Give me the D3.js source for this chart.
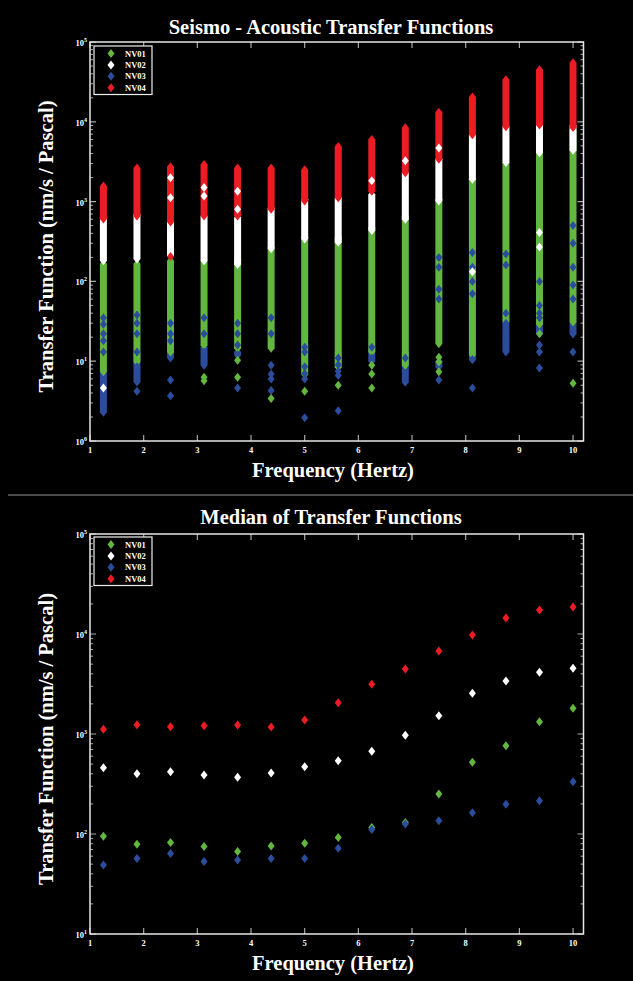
<!DOCTYPE html>
<html>
<head>
<meta charset="utf-8">
<script src="https://cdn.jsdelivr.net/npm/d3@7"></script>
<style>
  body { margin: 0; background: #000; }
  svg { display: block; }
  text { font-family: "Liberation Serif", "DejaVu Serif", serif; font-weight: bold; fill: #fff; }
</style>
</head>
<body>
<svg id="chart" width="633" height="981"></svg>
<script>
var width = 633, height = 981;

// frequency columns (Hz)
const freqs = [1.25, 1.875, 2.5, 3.125, 3.75, 4.375, 5, 5.625, 6.25, 6.875, 7.5, 8.125, 8.75, 9.375, 10];
const stations = ["NV01", "NV02", "NV03", "NV04"];
const colors = ["#62b83f", "#ffffff", "#2c4c9c", "#ec1c24"];

// dense runs of points in the top panel, per column (nm/s / Pa)
const nv01Hi = [166, 166, 182, 182, 190, 270, 357, 357, 480, 660, 1070, 1900, 3080, 4100, 7900];
const nv01Lo = [7.4, 9.8, 13, 15.8, 14.5, 14.5, 6.8, 8.4, 13, 8.9, 16.6, 12, 31, 29, 31];
const nv02Hi = [631, 690, 575, 660, 630, 830, 1070, 1120, 1230, 2300, 3400, 6900, 8700, 9100, 9000];
const nv02Lo = [182, 191, 210, 182, 163, 256, 340, 310, 435, 600, 1020, 1900, 3080, 4100, 4400];
const nv03Hi = [7.4, 13, 13, 15, 13, 18, 15, 13, 15, 13, 10, 12, 31, 28, 31];
const nv03Lo = [2.3, 5.5, 11, 9, 12, 18, 10, 9, 10, 5.5, 8.5, 10.5, 13, 22, 22];
const nv04Hi = [1570, 2630, 2735, 2920, 2630, 2630, 2500, 4900, 6000, 8400, 13200, 20400, 33600, 45000, 55000];
const nv04Lo = [604, 660, 556, 660, 660, 800, 1020, 1120, 1350, 2300, 3400, 6900, 8700, 9100, 8500];

// single points standing out of the runs [freq, value]
const nv01Out = [[3.125, 6.3], [3.125, 5.7], [3.75, 10.3], [3.75, 6.3], [4.375, 3.4], [5, 4.2],
  [5.625, 5.0], [6.25, 8.9], [6.25, 6.9], [6.25, 4.6], [7.5, 11.2], [7.5, 9.8], [7.5, 7.4],
  [9.375, 22], [10, 5.3]];
const nv02Out = [[1.25, 4.6], [2.5, 1990], [2.5, 1120], [3.125, 1500], [3.125, 1175], [3.75, 1350],
  [3.75, 800], [6.25, 1820], [6.875, 3240], [7.5, 4700], [8.125, 132], [9.375, 410], [9.375, 270]];
const nv03Out = [[1.25, 35], [1.25, 29], [1.25, 22], [1.25, 18], [1.25, 13],
  [1.875, 38], [1.875, 30], [1.875, 22], [1.875, 13], [1.875, 8.5], [1.875, 7], [1.875, 4.2],
  [2.5, 30], [2.5, 22], [2.5, 18], [2.5, 5.8], [2.5, 3.7],
  [3.125, 35], [3.125, 22], [3.125, 13], [3.125, 10], [3.125, 8.9],
  [3.75, 30], [3.75, 22], [3.75, 16], [3.75, 12], [3.75, 4.6],
  [4.375, 35], [4.375, 22], [4.375, 8.9], [4.375, 6.9], [4.375, 6.0], [4.375, 4.3],
  [5, 15], [5, 13], [5, 8.5], [5, 7], [5, 6], [5, 1.96],
  [5.625, 11], [5.625, 9], [5.625, 7.5], [5.625, 6.6], [5.625, 2.4],
  [6.25, 15], [6.25, 11], [6.875, 11], [6.875, 7], [6.875, 5.5],
  [7.5, 200], [7.5, 150], [7.5, 80], [7.5, 60], [7.5, 8.5], [7.5, 5.8],
  [8.125, 230], [8.125, 150], [8.125, 100], [8.125, 70], [8.125, 10.5], [8.125, 4.6],
  [8.75, 220], [8.75, 160], [8.75, 40], [8.75, 30], [8.75, 25], [8.75, 20], [8.75, 17], [8.75, 13.8],
  [9.375, 100], [9.375, 50], [9.375, 40], [9.375, 35], [9.375, 16], [9.375, 13], [9.375, 8.2],
  [10, 500], [10, 300], [10, 150], [10, 90], [10, 60], [10, 22], [10, 13]];
const nv04Out = [[2.5, 205]];

// medians, bottom panel
const nv01Median = [95, 79, 82, 75, 67, 76, 81, 92, 116, 130, 251, 521, 764, 1327, 1807];
const nv02Median = [460, 401, 420, 389, 369, 407, 471, 541, 671, 970, 1524, 2551, 3388, 4140, 4540];
const nv03Median = [49, 57, 64, 53, 55, 57, 57, 72, 111, 126, 136, 163, 198, 215, 334];
const nv04Median = [1114, 1238, 1183, 1211, 1230, 1175, 1380, 2056, 3140, 4467, 6761, 9772, 14450, 17400, 18600];

const xTicks = [1, 2, 3, 4, 5, 6, 7, 8, 9, 10];

var svg = d3.select('#chart');
svg.append('rect').attr('width', width).attr('height', height).attr('fill', '#000');

// grey divider between the two panels
svg.append('line')
  .attr('x1', 8).attr('x2', width).attr('y1', 495).attr('y2', 495)
  .attr('stroke', '#4a4a4a').attr('stroke-width', 2);

var dw = 7, dh = 9; // diamond size

function diamond(x, y) {
  return 'M' + x + ',' + (y - dh / 2) + 'L' + (x + dw / 2) + ',' + y +
    'L' + x + ',' + (y + dh / 2) + 'L' + (x - dw / 2) + ',' + y + 'Z';
}
// a run of overlapping diamonds from lo to hi
function run(x, yTop, yBot) {
  return 'M' + x + ',' + (yTop - dh / 2) + 'L' + (x + dw / 2) + ',' + yTop +
    'L' + (x + dw / 2) + ',' + yBot + 'L' + x + ',' + (yBot + dh / 2) +
    'L' + (x - dw / 2) + ',' + yBot + 'L' + (x - dw / 2) + ',' + yTop + 'Z';
}

function panel(top, bottom, yMin, title, titleY, legendTop) {
  var x = d3.scaleLinear().domain([1, 10.195]).range([90, 583.5]);
  var y = d3.scaleLog().domain([yMin, 1e5]).range([bottom, top]);
  var g = svg.append('g');

  var decades = d3.range(Math.log10(yMin), 6).map(function(e) { return Math.pow(10, e); });
  var minors = [];
  decades.slice(0, -1).forEach(function(d) {
    for (var k = 2; k <= 9; k++) minors.push(d * k);
  });

  // ticks, all pointing inward
  var tickColor = '#a8a8a8';
  g.selectAll('.ymaj').data(decades).enter().append('path')
    .attr('d', function(d) { return 'M90,' + y(d) + 'h6M583.5,' + y(d) + 'h-6'; })
    .attr('stroke', tickColor).attr('stroke-width', 1.2);
  g.selectAll('.ymin').data(minors).enter().append('path')
    .attr('d', function(d) { return 'M90,' + y(d) + 'h3M583.5,' + y(d) + 'h-3'; })
    .attr('stroke', tickColor).attr('stroke-width', 1);
  g.selectAll('.xmaj').data(xTicks).enter().append('path')
    .attr('d', function(d) { return 'M' + x(d) + ',' + bottom + 'v-6M' + x(d) + ',' + top + 'v6'; })
    .attr('stroke', tickColor).attr('stroke-width', 1.2);

  // frame
  g.append('rect')
    .attr('x', 90).attr('y', top).attr('width', 493.5).attr('height', bottom - top)
    .attr('fill', 'none').attr('stroke', '#e8e8e8').attr('stroke-width', 1.5);

  // tick labels
  g.selectAll('.xl').data(xTicks).enter().append('text')
    .attr('x', function(d) { return x(d); }).attr('y', bottom + 12)
    .attr('text-anchor', 'middle').attr('font-size', 8.5)
    .text(function(d) { return d; });
  var yl = g.selectAll('.yl').data(decades).enter().append('text')
    .attr('x', 87).attr('y', function(d) { return y(d) + 4; })
    .attr('text-anchor', 'end').attr('font-size', 8.5);
  yl.append('tspan').text('10');
  yl.append('tspan').attr('dy', -4).attr('font-size', 6)
    .text(function(d) { return Math.round(Math.log10(d)); });

  // titles
  g.append('text').attr('x', 331).attr('y', titleY)
    .attr('text-anchor', 'middle').attr('font-size', 20.5).text(title);
  g.append('text').attr('x', 333).attr('y', bottom + 36)
    .attr('text-anchor', 'middle').attr('font-size', 20.5).text('Frequency (Hertz)');
  g.append('text')
    .attr('transform', 'translate(53,' + ((top + bottom) / 2 + 5) + ') rotate(-90)')
    .attr('text-anchor', 'middle').attr('font-size', 20.5)
    .text('Transfer Function (nm/s / Pascal)');

  // legend
  var lg = g.append('g');
  lg.append('rect').attr('x', 94).attr('y', legendTop).attr('width', 58).attr('height', 48.5)
    .attr('fill', '#000').attr('stroke', '#f0f0f0').attr('stroke-width', 1.2);
  stations.forEach(function(s, i) {
    var ly = legendTop + 7.5 + i * 11.4;
    lg.append('path').attr('d', diamond(111, ly)).attr('fill', colors[i]);
    lg.append('text').attr('x', 125).attr('y', ly + 3).attr('font-size', 8.5).text(s);
  });

  return {g: g, x: x, y: y};
}

// ---- top panel: every transfer function
var p1 = panel(42, 441, 1, 'Seismo - Acoustic Transfer Functions', 34, 46);
var his = [nv01Hi, nv02Hi, nv03Hi, nv04Hi];
var los = [nv01Lo, nv02Lo, nv03Lo, nv04Lo];
var outs = [nv01Out, nv02Out, nv03Out, nv04Out];
var order = [2, 0, 1, 3];

order.forEach(function(s) {
  p1.g.append('g').selectAll('path').data(freqs).enter().append('path')
    .attr('d', function(f, i) { return run(p1.x(f), p1.y(his[s][i]), p1.y(los[s][i])); })
    .attr('fill', colors[s]);
});
order.forEach(function(s) {
  p1.g.append('g').selectAll('path').data(outs[s]).enter().append('path')
    .attr('d', function(d) { return diamond(p1.x(d[0]), p1.y(d[1])); })
    .attr('fill', colors[s]);
});

// ---- bottom panel: medians
var p2 = panel(534, 934, 10, 'Median of Transfer Functions', 524, 537);
var medians = [nv01Median, nv02Median, nv03Median, nv04Median];
medians.forEach(function(m, s) {
  p2.g.append('g').selectAll('path').data(freqs).enter().append('path')
    .attr('d', function(f, i) { return diamond(p2.x(f), p2.y(m[i])); })
    .attr('fill', colors[s]);
});
</script>
</body>
</html>
